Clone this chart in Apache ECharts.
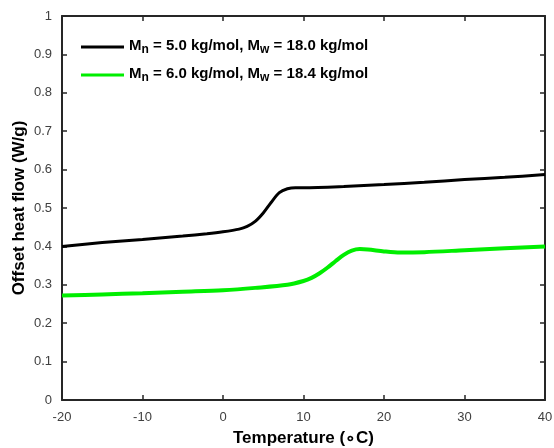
<!DOCTYPE html>
<html><head><meta charset="utf-8">
<script src="https://cdn.jsdelivr.net/npm/echarts@6/dist/echarts.min.js"></script>
<style>html,body{margin:0;padding:0;background:#fff}#c{width:554px;height:448px}</style>
</head><body><div id="c"></div>
<script>
const seriesNames = ['Mn = 5.0 kg/mol, Mw = 18.0 kg/mol', 'Mn = 6.0 kg/mol, Mw = 18.4 kg/mol'];
const blackT = [-20,-15,-10,-5,-2,0,2,3,4,5,6,7,8,9,10,15,20,25,30,35,40];
const blackV = [0.400,0.410,0.418,0.427,0.433,0.438,0.445,0.452,0.465,0.487,0.515,0.540,0.550,0.553,0.553,0.556,0.561,0.567,0.574,0.580,0.587];
const greenT = [-20,-15,-10,-5,0,4,8,10,11,12,13,14,15,16,17,18,20,22,25,30,35,40];
const greenV = [0.272,0.275,0.278,0.282,0.286,0.292,0.300,0.310,0.318,0.330,0.345,0.362,0.378,0.389,0.393,0.392,0.387,0.384,0.385,0.390,0.395,0.400];
const xTitle = 'Temperature (\u2218C)';
const yTitle = 'Offset heat flow (W/g)';

const chart = echarts.init(document.getElementById('c'), null, {renderer:'canvas'});
const axisLine = {show:true, onZero:false, lineStyle:{color:'#262626', width:2}};
const tick = {show:true, inside:true, length:5, lineStyle:{color:'#262626', width:1.5}};
const lblFont = {fontFamily:'Liberation Sans, Arial', fontSize:13, color:'#404040'};
const legendFmt = function(name){
  const i = seriesNames.indexOf(name);
  if (i === 0) return '{b|M}{s|n}{b| = 5.0 kg/mol, M}{s|w}{b| = 18.0 kg/mol}';
  return '{b|M}{s|n}{b| = 6.0 kg/mol, M}{s|w}{b| = 18.4 kg/mol}';
};
const titleFont = {fontFamily:'Liberation Sans, Arial', fontWeight:'bold', fontSize:17, color:'#000'};
chart.setOption({
  animation:false,
  backgroundColor:'#fff',
  grid:{left:62, right:9, top:16, bottom:48, containLabel:false, outerBoundsMode:'none'},
  legend:{
    orient:'vertical', left:76, top:31, itemGap:8, itemWidth:43, itemHeight:3,
    icon:'rect', formatter:legendFmt,
    data:seriesNames,
    textStyle:{
      fontFamily:'Liberation Sans, Arial', fontWeight:'bold', fontSize:15, color:'#000',
      rich:{
        b:{fontFamily:'Liberation Sans, Arial', fontWeight:'bold', fontSize:15, color:'#000', lineHeight:18, verticalAlign:'top'},
        s:{fontFamily:'Liberation Sans, Arial', fontWeight:'bold', fontSize:12, color:'#000', lineHeight:18, verticalAlign:'bottom', padding:[8,0,0,0]}
      }
    }
  },
  xAxis:[
    {type:'value', min:-20, max:40, interval:10, position:'bottom',
     axisLine:axisLine, axisTick:tick, splitLine:{show:false},
     axisLabel:Object.assign({margin:11}, lblFont),
     name:xTitle, nameLocation:'middle', nameGap:30, nameMoveOverlap:false, nameTextStyle:titleFont},
    {type:'value', min:-20, max:40, interval:10, position:'top',
     axisLine:axisLine, axisTick:tick, splitLine:{show:false}, axisLabel:{show:false}}
  ],
  yAxis:[
    {type:'value', min:0, max:1, interval:0.1, position:'left',
     axisLine:axisLine, axisTick:tick, splitLine:{show:false},
     axisLabel:Object.assign({margin:10, formatter:function(v){return String(Math.round(v*10)/10);}}, lblFont),
     name:yTitle, nameLocation:'middle', nameGap:34, nameMoveOverlap:false, nameRotate:90, nameTextStyle:titleFont},
    {type:'value', min:0, max:1, interval:0.1, position:'right',
     axisLine:axisLine, axisTick:tick, splitLine:{show:false}, axisLabel:{show:false}}
  ],
  series:[
    {name:seriesNames[0], type:'line', xAxisIndex:0, yAxisIndex:0, showSymbol:false, smooth:0.3,
     data:blackT.map((t,i)=>[t,blackV[i]]), lineStyle:{color:'#000', width:3}, itemStyle:{color:'#000'}},
    {name:seriesNames[1], type:'line', xAxisIndex:0, yAxisIndex:0, showSymbol:false, smooth:0.3,
     data:greenT.map((t,i)=>[t,greenV[i]]), lineStyle:{color:'#00ee00', width:4}, itemStyle:{color:'#00ee00'}}
  ]
});
</script></body></html>
